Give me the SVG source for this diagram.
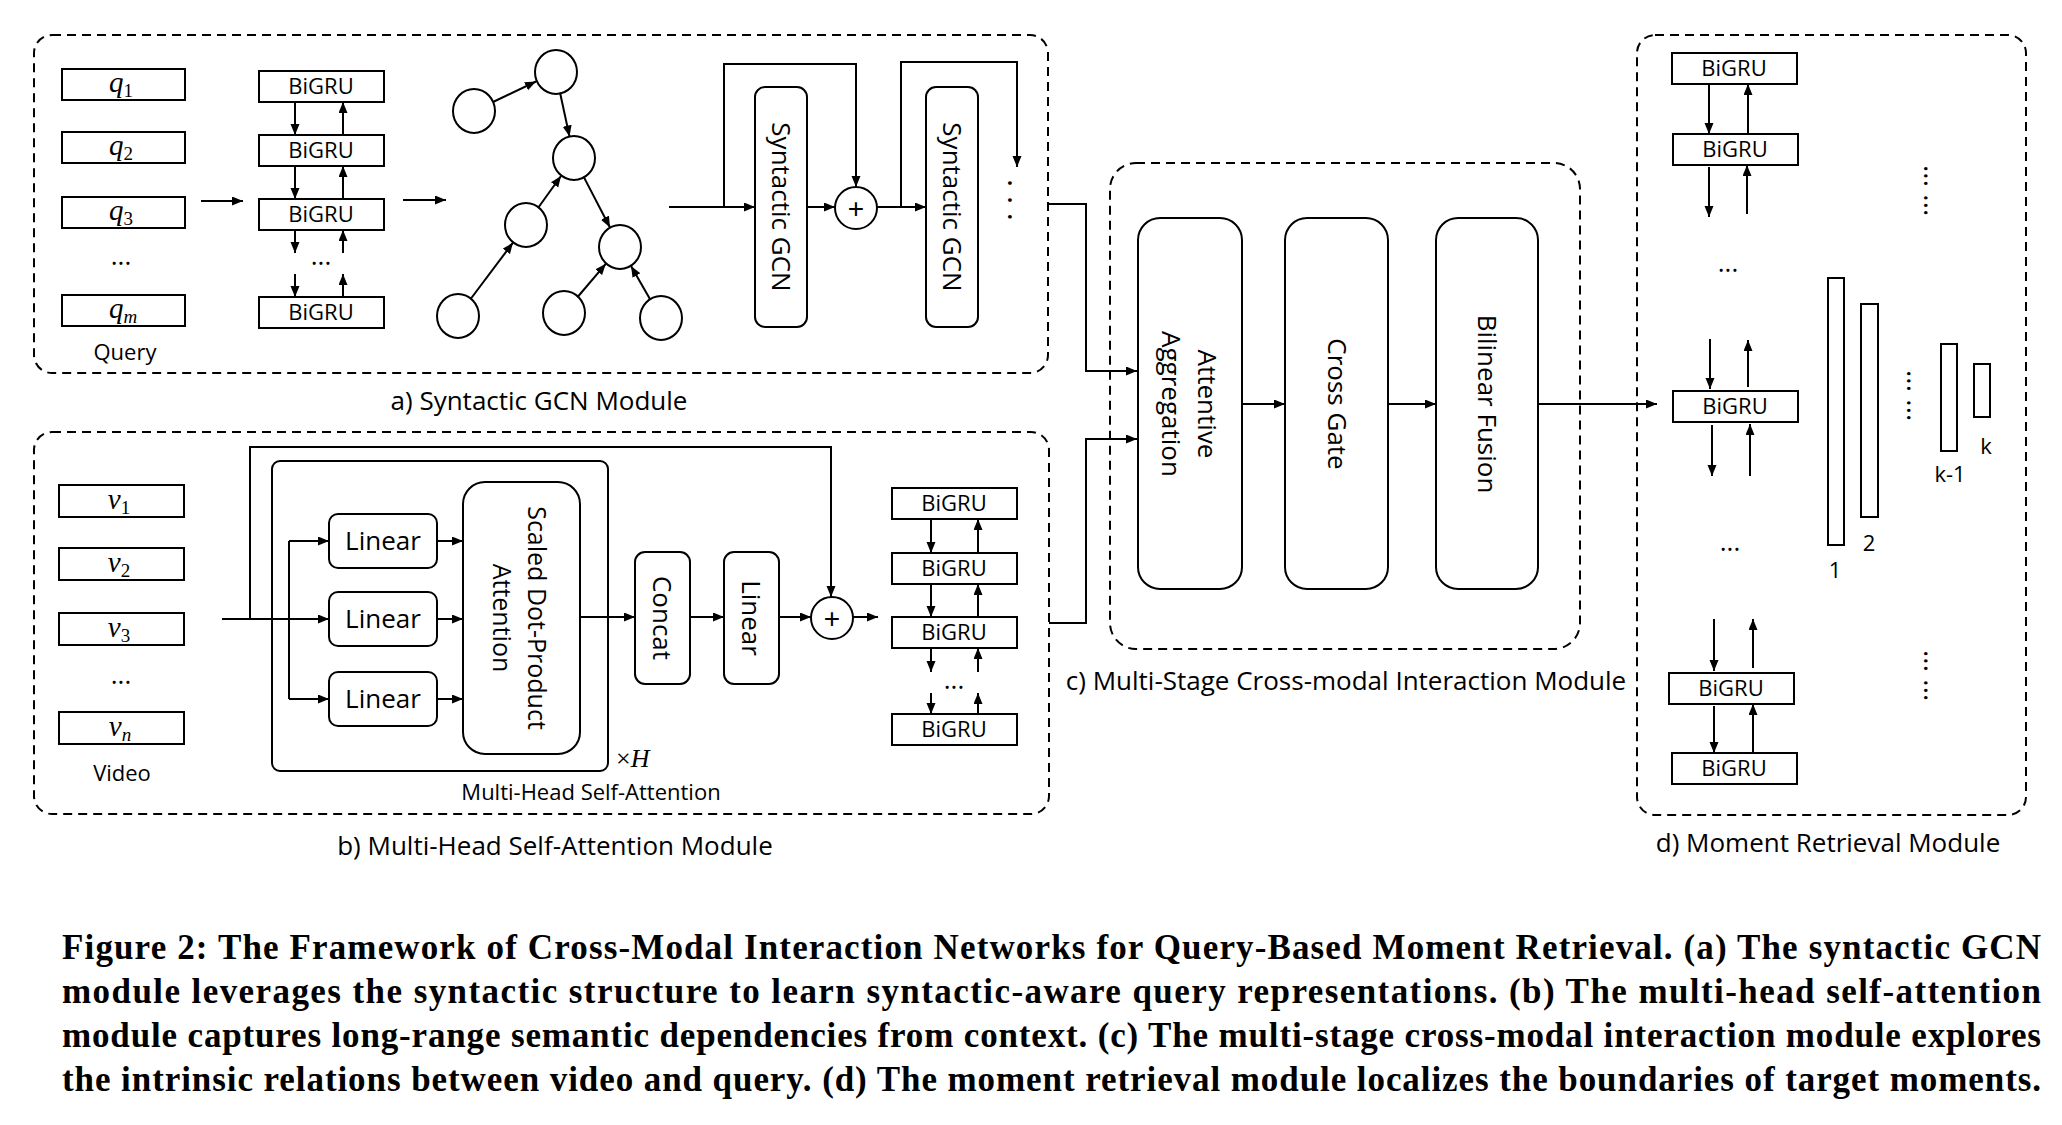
<svg xmlns="http://www.w3.org/2000/svg" width="2062" height="1125" viewBox="0 0 2062 1125">
<defs>
<marker id="ah" markerUnits="userSpaceOnUse" markerWidth="12" markerHeight="10" refX="11" refY="4.5" orient="auto"><path d="M0,0 L11,4.5 L0,9 z" fill="#000"/></marker>
<style>
.bx{fill:#fff;stroke:#000;stroke-width:2}
.dash{fill:none;stroke:#000;stroke-width:2;stroke-dasharray:9 6}
.ln{fill:none;stroke:#000;stroke-width:2}
.ar{fill:none;stroke:#000;stroke-width:2;marker-end:url(#ah)}
.nd{fill:#fff;stroke:#000;stroke-width:2}
.t{font-family:"Open Sans","Noto Sans","DejaVu Sans",sans-serif;fill:#000}
.s22{font-size:22px}
.s26{font-size:26px}
.s25{font-size:25px}
.mid{text-anchor:middle}
.m{font-family:"Liberation Serif","DejaVu Serif",serif;font-style:italic;font-size:29px;fill:#000;text-anchor:middle}
.sub{font-size:19px}
.up{font-style:normal}
.cap{font-family:"Liberation Serif","Times New Roman",serif;font-weight:bold;font-size:35px;fill:#000}
.dt{font-family:"Open Sans","DejaVu Sans",sans-serif;font-size:28px;fill:#000}
.pl{font-family:"Liberation Sans",Arial,sans-serif;font-size:28px;fill:#000;text-anchor:middle}
</style>
</defs>
<rect x="0" y="0" width="2062" height="1125" fill="#fff"/>

<!-- a) Syntactic GCN Module -->
<g id="module-a">
<rect class="dash" x="34" y="35" width="1014" height="338" rx="18"/>
<text class="t s26 mid" x="539" y="410">a) Syntactic GCN Module</text>
</g>
<g id="query-inputs">
<rect class="bx" x="62" y="69" width="123" height="31"/>
<rect class="bx" x="62" y="132" width="123" height="31"/>
<rect class="bx" x="62" y="197" width="123" height="31"/>
<rect class="bx" x="62" y="295" width="123" height="31"/>
<text class="m" x="121" y="92">q<tspan class="sub up" dy="5">1</tspan></text>
<text class="m" x="121" y="155">q<tspan class="sub up" dy="5">2</tspan></text>
<text class="m" x="121" y="220">q<tspan class="sub up" dy="5">3</tspan></text>
<text class="m" x="123" y="318">q<tspan class="sub" dy="5">m</tspan></text>
<text class="t s26 mid" x="121" y="265">...</text>
<text class="t s22 mid" x="125" y="360">Query</text>
</g>
<g id="query-bigru">
<rect class="bx" x="259" y="71" width="125" height="31"/>
<rect class="bx" x="259" y="135" width="125" height="31"/>
<rect class="bx" x="259" y="199" width="125" height="31"/>
<rect class="bx" x="259" y="297" width="125" height="31"/>
<text class="t s22 mid" x="321" y="94">BiGRU</text>
<text class="t s22 mid" x="321" y="158">BiGRU</text>
<text class="t s22 mid" x="321" y="222">BiGRU</text>
<text class="t s22 mid" x="321" y="320">BiGRU</text>
<text class="t s26 mid" x="321" y="265">...</text>
</g>
<g id="syntax-tree">
<ellipse class="nd" cx="474" cy="111" rx="21" ry="22"/>
<ellipse class="nd" cx="556" cy="72" rx="21" ry="22"/>
<ellipse class="nd" cx="574" cy="158" rx="21" ry="22"/>
<ellipse class="nd" cx="526" cy="225" rx="21" ry="22"/>
<ellipse class="nd" cx="620" cy="247" rx="21" ry="22"/>
<ellipse class="nd" cx="458" cy="316" rx="21" ry="22"/>
<ellipse class="nd" cx="564" cy="313" rx="21" ry="22"/>
<ellipse class="nd" cx="661" cy="318" rx="21" ry="22"/>
</g>
<g id="gcn1">
<rect class="bx" x="755" y="87" width="52" height="240" rx="10"/>
<text class="t s26 mid" transform="translate(781,207) rotate(90)" x="0" y="9">Syntactic GCN</text>
</g>
<g id="sum-a">
<circle class="nd" cx="856" cy="208" r="21"/>
<text class="pl" x="856" y="218">+</text>
</g>
<g id="gcn2">
<rect class="bx" x="926" y="87" width="52" height="240" rx="10"/>
<text class="t s26 mid" transform="translate(952,207) rotate(90)" x="0" y="9">Syntactic GCN</text>
<text class="dt" transform="translate(1010,179) rotate(90)" x="0" y="2" style="font-size:30px;letter-spacing:9px">...</text>
</g>

<!-- b) Multi-Head Self-Attention Module -->
<g id="module-b">
<rect class="dash" x="34" y="432" width="1015" height="382" rx="18"/>
<text class="t s26 mid" x="555" y="855">b) Multi-Head Self-Attention Module</text>
</g>
<g id="video-inputs">
<rect class="bx" x="59" y="485" width="125" height="32"/>
<rect class="bx" x="59" y="548" width="125" height="32"/>
<rect class="bx" x="59" y="613" width="125" height="32"/>
<rect class="bx" x="59" y="712" width="125" height="32"/>
<text class="m" x="119" y="509">v<tspan class="sub up" dy="5">1</tspan></text>
<text class="m" x="119" y="572">v<tspan class="sub up" dy="5">2</tspan></text>
<text class="m" x="119" y="637">v<tspan class="sub up" dy="5">3</tspan></text>
<text class="m" x="120" y="736">v<tspan class="sub" dy="5">n</tspan></text>
<text class="t s26 mid" x="121" y="684">...</text>
<text class="t s22 mid" x="122" y="781">Video</text>
</g>
<g id="multi-head">
<rect class="bx" x="272" y="461" width="336" height="310" rx="8"/>
<text class="t s22 mid" x="591" y="800">Multi-Head Self-Attention</text>
<text class="m" x="616" y="767" style="text-anchor:start;font-size:26px"><tspan class="up">×</tspan>H</text>
</g>
<g id="linear-1">
<rect class="bx" x="329" y="514" width="108" height="54" rx="9"/>
<text class="t s26 mid" x="383" y="550">Linear</text>
</g>
<g id="linear-2">
<rect class="bx" x="329" y="592" width="108" height="54" rx="9"/>
<text class="t s26 mid" x="383" y="628">Linear</text>
</g>
<g id="linear-3">
<rect class="bx" x="329" y="672" width="108" height="54" rx="9"/>
<text class="t s26 mid" x="383" y="708">Linear</text>
</g>
<g id="sdpa">
<rect class="bx" x="463" y="482" width="117" height="272" rx="22"/>
<text class="t s25 mid" transform="translate(521,618) rotate(90)" x="0" y="-7">Scaled Dot-Product</text>
<text class="t s25 mid" transform="translate(521,618) rotate(90)" x="0" y="28">Attention</text>
</g>
<g id="concat">
<rect class="bx" x="635" y="552" width="55" height="132" rx="10"/>
<text class="t s26 mid" transform="translate(662,618) rotate(90)" x="0" y="9">Concat</text>
</g>
<g id="linear-4">
<rect class="bx" x="724" y="552" width="55" height="132" rx="10"/>
<text class="t s26 mid" transform="translate(751,618) rotate(90)" x="0" y="9">Linear</text>
</g>
<g id="sum-b">
<circle class="nd" cx="832" cy="618" r="21"/>
<text class="pl" x="832" y="628">+</text>
</g>
<g id="video-bigru">
<rect class="bx" x="892" y="488" width="125" height="31"/>
<rect class="bx" x="892" y="553" width="125" height="31"/>
<rect class="bx" x="892" y="617" width="125" height="31"/>
<rect class="bx" x="892" y="714" width="125" height="31"/>
<text class="t s22 mid" x="954" y="511">BiGRU</text>
<text class="t s22 mid" x="954" y="576">BiGRU</text>
<text class="t s22 mid" x="954" y="640">BiGRU</text>
<text class="t s22 mid" x="954" y="737">BiGRU</text>
<text class="t s26 mid" x="954" y="689">...</text>
</g>

<!-- c) Multi-Stage Cross-modal Interaction Module -->
<g id="module-c">
<rect class="dash" x="1110" y="163" width="470" height="486" rx="26"/>
<text class="t s26 mid" x="1346" y="690">c) Multi-Stage Cross-modal Interaction Module</text>
</g>
<g id="attentive-aggregation">
<rect class="bx" x="1138" y="218" width="104" height="371" rx="22"/>
<text class="t s26 mid" transform="translate(1190,404) rotate(90)" x="0" y="-8">Attentive</text>
<text class="t s26 mid" transform="translate(1190,404) rotate(90)" x="0" y="28">Aggregation</text>
</g>
<g id="cross-gate">
<rect class="bx" x="1285" y="218" width="103" height="371" rx="22"/>
<text class="t s26 mid" transform="translate(1337,404) rotate(90)" x="0" y="9">Cross Gate</text>
</g>
<g id="bilinear-fusion">
<rect class="bx" x="1436" y="218" width="102" height="371" rx="22"/>
<text class="t s26 mid" transform="translate(1487,404) rotate(90)" x="0" y="9">Bilinear Fusion</text>
</g>

<!-- d) Moment Retrieval Module -->
<g id="module-d">
<rect class="dash" x="1637" y="35" width="389" height="780" rx="18"/>
<text class="t s26 mid" x="1828" y="852">d) Moment Retrieval Module</text>
</g>
<g id="retrieval-bigru">
<rect class="bx" x="1672" y="53" width="125" height="31"/>
<rect class="bx" x="1673" y="134" width="125" height="31"/>
<rect class="bx" x="1673" y="391" width="125" height="31"/>
<rect class="bx" x="1669" y="673" width="125" height="31"/>
<rect class="bx" x="1672" y="753" width="125" height="31"/>
<text class="t s22 mid" x="1734" y="76">BiGRU</text>
<text class="t s22 mid" x="1735" y="157">BiGRU</text>
<text class="t s22 mid" x="1735" y="414">BiGRU</text>
<text class="t s22 mid" x="1731" y="696">BiGRU</text>
<text class="t s22 mid" x="1734" y="776">BiGRU</text>
<text class="t s26 mid" x="1728" y="272">...</text>
<text class="t s26 mid" x="1730" y="551">...</text>
</g>
<g id="proposal-bars">
<rect class="bx" x="1828" y="278" width="16" height="267"/>
<rect class="bx" x="1861" y="304" width="17" height="213"/>
<rect class="bx" x="1941" y="344" width="16" height="107"/>
<rect class="bx" x="1974" y="364" width="16" height="53"/>
<text class="t s22 mid" x="1835" y="578">1</text>
<text class="t s22 mid" x="1869" y="551">2</text>
<text class="t s22 mid" x="1950" y="482">k-1</text>
<text class="t s22 mid" x="1986" y="454">k</text>
<text class="dt" transform="translate(1926,165) rotate(90)" x="0" y="2">... ...</text>
<text class="dt" transform="translate(1909,370) rotate(90)" x="0" y="2">... ...</text>
<text class="dt" transform="translate(1926,650) rotate(90)" x="0" y="2">... ...</text>
</g>

<g id="connectors">
<!-- a -->
<line class="ar" x1="201" y1="201" x2="243" y2="201"/>
<line class="ar" x1="295" y1="102" x2="295" y2="135"/>
<line class="ar" x1="295" y1="166" x2="295" y2="199"/>
<line class="ar" x1="295" y1="230" x2="295" y2="253"/>
<line class="ar" x1="295" y1="274" x2="295" y2="297"/>
<line class="ar" x1="343" y1="135" x2="343" y2="102"/>
<line class="ar" x1="343" y1="199" x2="343" y2="166"/>
<line class="ar" x1="343" y1="253" x2="343" y2="230"/>
<line class="ar" x1="343" y1="297" x2="343" y2="274"/>
<line class="ar" x1="403" y1="200" x2="446" y2="200"/>
<line class="ar" x1="493" y1="102" x2="536" y2="81.5"/>
<line class="ar" x1="560" y1="92.5" x2="569.5" y2="136.5"/>
<line class="ar" x1="538" y1="208" x2="561" y2="176"/>
<line class="ar" x1="470.6" y1="299" x2="513" y2="242.6"/>
<line class="ar" x1="583.6" y1="176.6" x2="610" y2="227.5"/>
<line class="ar" x1="577.6" y1="297" x2="605.8" y2="263.8"/>
<line class="ar" x1="650.5" y1="300" x2="631" y2="266"/>
<line class="ar" x1="669" y1="207" x2="755" y2="207"/>
<polyline class="ar" points="724,207 724,64 856,64 856,187"/>
<line class="ar" x1="807" y1="207" x2="835" y2="207"/>
<line class="ar" x1="877" y1="207" x2="926" y2="207"/>
<polyline class="ar" points="901,207 901,62 1017,62 1017,167"/>
<polyline class="ar" points="1048,204 1086,204 1086,371 1137,371"/>
<!-- b -->
<line class="ar" x1="222" y1="619" x2="329" y2="619"/>
<polyline class="ar" points="250,619 250,447 831,447 831,597"/>
<line class="ln" x1="289" y1="541" x2="289" y2="699"/>
<line class="ar" x1="289" y1="541" x2="329" y2="541"/>
<line class="ar" x1="289" y1="699" x2="329" y2="699"/>
<line class="ar" x1="437" y1="541" x2="463" y2="541"/>
<line class="ar" x1="437" y1="619" x2="463" y2="619"/>
<line class="ar" x1="437" y1="699" x2="463" y2="699"/>
<line class="ar" x1="580" y1="617" x2="635" y2="617"/>
<line class="ar" x1="690" y1="617" x2="724" y2="617"/>
<line class="ar" x1="779" y1="617" x2="811" y2="617"/>
<line class="ar" x1="853" y1="617" x2="878" y2="617"/>
<line class="ar" x1="931" y1="519" x2="931" y2="553"/>
<line class="ar" x1="931" y1="584" x2="931" y2="617"/>
<line class="ar" x1="931" y1="648" x2="931" y2="672"/>
<line class="ar" x1="931" y1="693" x2="931" y2="714"/>
<line class="ar" x1="978" y1="553" x2="978" y2="519"/>
<line class="ar" x1="978" y1="617" x2="978" y2="584"/>
<line class="ar" x1="978" y1="672" x2="978" y2="648"/>
<line class="ar" x1="978" y1="714" x2="978" y2="693"/>
<polyline class="ar" points="1049,623 1086,623 1086,439 1137,439"/>
<!-- c -->
<line class="ar" x1="1242" y1="404" x2="1285" y2="404"/>
<line class="ar" x1="1388" y1="404" x2="1436" y2="404"/>
<line class="ar" x1="1538" y1="404" x2="1657" y2="404"/>
<!-- d -->
<line class="ar" x1="1709" y1="84" x2="1709" y2="134"/>
<line class="ar" x1="1748" y1="134" x2="1748" y2="84"/>
<line class="ar" x1="1709" y1="167" x2="1709" y2="217"/>
<line class="ar" x1="1747" y1="214" x2="1747" y2="165"/>
<line class="ar" x1="1710" y1="339" x2="1710" y2="389"/>
<line class="ar" x1="1748" y1="387" x2="1748" y2="340"/>
<line class="ar" x1="1712" y1="425" x2="1712" y2="476"/>
<line class="ar" x1="1750" y1="476" x2="1750" y2="424"/>
<line class="ar" x1="1714" y1="619" x2="1714" y2="671"/>
<line class="ar" x1="1753" y1="668" x2="1753" y2="619"/>
<line class="ar" x1="1714" y1="706" x2="1714" y2="753"/>
<line class="ar" x1="1753" y1="753" x2="1753" y2="704"/>
</g>

<g id="figure-caption">
<text class="cap" x="62" y="959" textLength="1979" lengthAdjust="spacing">Figure 2: The Framework of Cross-Modal Interaction Networks for Query-Based Moment Retrieval. (a) The syntactic GCN</text>
<text class="cap" x="62" y="1003" textLength="1979" lengthAdjust="spacing">module leverages the syntactic structure to learn syntactic-aware query representations. (b) The multi-head self-attention</text>
<text class="cap" x="62" y="1047" textLength="1979" lengthAdjust="spacing">module captures long-range semantic dependencies from context. (c) The multi-stage cross-modal interaction module explores</text>
<text class="cap" x="62" y="1091" textLength="1979" lengthAdjust="spacing">the intrinsic relations between video and query. (d) The moment retrieval module localizes the boundaries of target moments.</text>
</g>
</svg>
